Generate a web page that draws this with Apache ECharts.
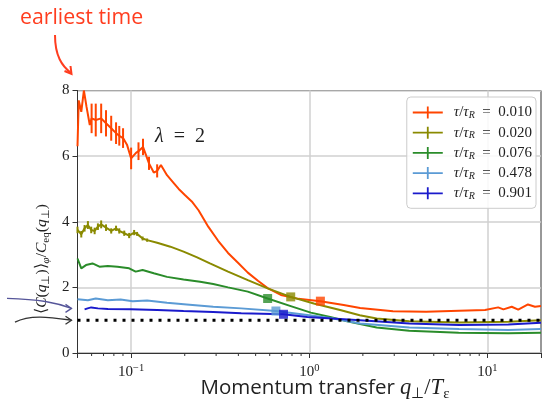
<!DOCTYPE html>
<html><head><meta charset="utf-8">
<script src="https://cdn.jsdelivr.net/npm/echarts@6/dist/echarts.min.js"></script>
<style>html,body{margin:0;padding:0;background:#fff}#c{width:544px;height:402px}</style>
</head><body><div id="c"></div>
<script>
// ---------- data ----------
const seriesNames = ['0.010', '0.020', '0.076', '0.478', '0.901'];

const qOrange = [0.0500,0.0508,0.0525,0.0543,0.0562,0.0586,0.0600,0.0633,0.0679,0.0723,0.0773,0.0823,0.0858,0.0901,0.0948,0.1000,0.1065,0.1100,0.1166,0.1260,0.1340,0.1400,0.1470,0.1590,0.1740,0.1850,0.2010,0.2190,0.2390,0.2710,0.3080,0.3500,0.3980,0.4520,0.5150,0.5840,0.6930,0.8700,1.155,1.560,1.930,2.950,4.530,6.930,9.700,11.50,12.30,13.70,14.90,16.90,18.50,20.00];
const yOrange = [6.30,7.70,7.35,8.00,7.50,6.95,7.15,7.10,7.15,7.00,6.85,6.70,6.62,6.55,6.35,5.93,6.10,6.15,6.28,5.78,5.50,5.55,5.73,5.42,5.17,5.00,4.81,4.62,4.35,3.85,3.42,3.05,2.75,2.45,2.20,1.98,1.77,1.65,1.58,1.46,1.37,1.27,1.26,1.29,1.31,1.39,1.33,1.41,1.32,1.48,1.41,1.43];
const eOrange = [0,0,0,0,0,0,0.45,0.5,0.45,0.4,0.38,0.33,0.3,0.3,0,0.33,0,0.27,0.25,0.2,0,0.2];

const qOlive = [0.0500,0.0525,0.0548,0.0572,0.0597,0.0624,0.0651,0.0679,0.0723,0.0773,0.0823,0.0858,0.0915,0.0975,0.104,0.108,0.116,0.123,0.140,0.166,0.197,0.233,0.277,0.350,0.452,0.584,0.787,1.06,1.49,1.92,2.39,3.64,6.90,13.1,20.0];
const yOlive = [3.75,3.62,3.80,3.90,3.75,3.72,3.85,3.92,3.82,3.72,3.80,3.72,3.65,3.58,3.67,3.63,3.49,3.44,3.36,3.24,3.09,2.92,2.73,2.48,2.22,1.97,1.71,1.51,1.31,1.15,1.05,0.97,0.93,0.95,1.00];
const eOlive = [0.1,0.1,0.1,0.12,0.1,0.1,0.1,0.12,0.1,0.08,0.08,0.08,0.08,0.08,0.08,0.06,0.06,0.05];

const qGreen = [0.0500,0.0525,0.0558,0.0607,0.0664,0.0740,0.0838,0.0975,0.106,0.116,0.134,0.159,0.197,0.244,0.289,0.350,0.452,0.584,0.787,1.02,1.31,1.63,2.39,3.64,6.90,13.1,20.0];
const yGreen = [2.88,2.58,2.68,2.73,2.63,2.65,2.63,2.58,2.48,2.53,2.43,2.32,2.24,2.17,2.10,2.00,1.87,1.66,1.43,1.23,1.10,0.97,0.78,0.68,0.62,0.60,0.62];

const qLight = [0.0500,0.0572,0.0633,0.0740,0.0873,0.102,0.123,0.159,0.205,0.289,0.415,0.650,0.975,1.34,1.93,3.65,6.93,13.1,20.0];
const yLight = [1.64,1.61,1.66,1.61,1.63,1.58,1.60,1.53,1.48,1.41,1.36,1.28,1.16,1.06,0.90,0.78,0.73,0.70,0.73];

const qBlue = [0.0548,0.0570,0.0597,0.0651,0.0740,0.0995,0.140,0.197,0.289,0.415,0.717,0.975,1.34,1.93,3.65,6.93,13.1,20.0];
const yBlue = [1.33,1.36,1.39,1.36,1.34,1.33,1.31,1.28,1.25,1.21,1.18,1.10,1.05,1.00,0.90,0.85,0.87,0.92];

const squareQ = [1.155, 0.787, 0.584, 0.650, 0.717];
const squareY = [1.58, 1.71, 1.66, 1.28, 1.18];

const refQ = [0.05, 20];
const refY = [1, 1];

const xMinorTicks = [0.06,0.07,0.08,0.09,0.2,0.3,0.4,0.5,0.6,0.7,0.8,0.9,2,3,4,5,6,7,8,9];
const xRange = [0.05, 20];
const yRange = [0, 8];
const yStep = 2;
const arrowLevels = [1.36, 1.0];

// ---------- styles ----------
const colors = ['#ff4500', '#8a8a00', '#2a8c2a', '#5b9bd5', '#1a1acc'];
const serif = 'Liberation Serif';
const sans = 'Open Sans';
const ink = '#222';

const allQ = [qOrange, qOlive, qGreen, qLight, qBlue];
const allY = [yOrange, yOlive, yGreen, yLight, yBlue];
const allE = [eOrange, eOlive, [], [], []];

const chart = echarts.init(document.getElementById('c'), null, {renderer: 'canvas'});

const series = [];
seriesNames.forEach((nm, k) => {
  series.push({
    name: nm, type: 'line', symbol: 'none', z: 2,
    data: allQ[k].map((v, i) => [v, allY[k][i]]),
    lineStyle: {color: colors[k], width: 2}, itemStyle: {color: colors[k]},
    clip: true
  });
  const eb = [];
  allE[k].forEach((e, i) => { if (e > 0) eb.push([allQ[k][i], allY[k][i] - e, allY[k][i] + e]); });
  if (eb.length) {
    series.push({
      type: 'custom', z: 2, data: eb, encode: {x: 0, y: [1, 2]},
      renderItem: (params, api) => {
        const p1 = api.coord([api.value(0), api.value(1)]);
        const p2 = api.coord([api.value(0), api.value(2)]);
        return {type: 'line', shape: {x1: p1[0], y1: p1[1], x2: p2[0], y2: p2[1]},
          style: {stroke: colors[k], lineWidth: 2}};
      }
    });
  }
});
squareQ.forEach((q, k) => {
  series.push({
    type: 'scatter', symbol: 'rect', symbolSize: 9, z: 3,
    data: [[q, squareY[k]]], itemStyle: {color: colors[k]}
  });
});
series.push({
  type: 'line', symbol: 'none', z: 4,
  data: refQ.map((v, i) => [v, refY[i]]),
  lineStyle: {color: '#000', width: 3, type: [3, 6]}
});
series.push({
  type: 'custom', z: 5, clip: false,
  data: xMinorTicks.map(v => [v, yRange[0]]), encode: {x: 0, y: 1},
  renderItem: (params, api) => {
    const p = api.coord([api.value(0), api.value(1)]);
    return {type: 'line', shape: {x1: p[0], y1: p[1], x2: p[0], y2: p[1] + 3},
      style: {stroke: '#333', lineWidth: 1}};
  }
});

function mathRich(size, sub) {
  return {
    n: {fontFamily: serif, fontSize: size, fill: ink, lineHeight: size + 4},
    i: {fontFamily: serif, fontSize: size, fontStyle: 'italic', fill: ink, lineHeight: size + 4},
    s: {fontFamily: serif, fontSize: sub, fill: ink, verticalAlign: 'bottom', lineHeight: sub + 2},
    si: {fontFamily: serif, fontSize: sub, fontStyle: 'italic', fill: ink, verticalAlign: 'bottom', lineHeight: sub + 2}
  };
}

const option = {
  animation: false,
  backgroundColor: '#fff',
  grid: {left: 77.5, right: -2, top: 90.5, bottom: 49, show: true, borderColor: '#333', borderWidth: 1, backgroundColor: 'transparent'},
  xAxis: {
    type: 'log', logBase: 10, min: xRange[0], max: xRange[1],
    axisLine: {lineStyle: {color: '#333', width: 1}},
    axisTick: {show: true, length: 5, lineStyle: {color: '#333'}},
    splitLine: {show: true, showMinLine: false, showMaxLine: false, lineStyle: {color: '#d0d0d0', width: 1.5}},
    axisLabel: {
      margin: 10,
      formatter: v => {
        const l = Math.log10(v);
        if (Math.abs(l - Math.round(l)) > 1e-6) return '';
        const e = Math.round(l);
        return '{b|10}{p|' + (e < 0 ? '\u2212' + (-e) : e) + '}';
      },
      rich: {
        b: {fontFamily: serif, fontSize: 15, color: ink, lineHeight: 18},
        p: {fontFamily: serif, fontSize: 10.5, color: ink, verticalAlign: 'top', lineHeight: 11}
      }
    }
  },
  yAxis: {
    type: 'value', min: yRange[0], max: yRange[1], interval: yStep,
    axisLine: {show: true, lineStyle: {color: '#333', width: 1}},
    axisTick: {show: true, length: 5, lineStyle: {color: '#333'}},
    splitLine: {show: true, lineStyle: {color: '#d0d0d0', width: 1.5}},
    axisLabel: {fontFamily: serif, fontSize: 15, color: ink, margin: 8}
  },
  legend: {
    orient: 'vertical', right: 8, top: 97, align: 'left',
    itemWidth: 30, itemHeight: 12, itemGap: 4.7,
    padding: [8, 4, 7, 6],
    backgroundColor: 'rgba(255,255,255,0.85)', borderColor: '#ccc', borderWidth: 1, borderRadius: 4,
    data: seriesNames.map(n => ({name: n, icon: 'path://M0,5.1L30,5.1L30,6.9L0,6.9Z M14.1,0L15.9,0L15.9,12L14.1,12Z'})),
    formatter: n => '{i|\u03c4}{n|/}{i|\u03c4}{s|R}{n|\u2002=\u2002' + n + '}',
    textStyle: {
      padding: [0, 0, 0, 6],
      rich: {
        n: {fontFamily: serif, fontSize: 15, color: ink, lineHeight: 16},
        i: {fontFamily: serif, fontSize: 15, fontStyle: 'italic', color: ink, lineHeight: 16},
        s: {fontFamily: serif, fontSize: 10, fontStyle: 'italic', color: ink, verticalAlign: 'bottom', lineHeight: 10}
      }
    }
  },
  series: series,
  graphic: [
    {type: 'text', x: 20, y: 18, style: {text: 'earliest time', fontFamily: sans, fontSize: 21.3, fill: '#ff3d1f', verticalAlign: 'middle'}},
    {type: 'bezierCurve', shape: {x1: 55, y1: 35, cpx1: 55, cpy1: 56, cpx2: 62, cpy2: 66, x2: 71, y2: 73}, style: {stroke: '#ff3d1f', lineWidth: 2, fill: null}},
    {type: 'polyline', shape: {points: [[64.5, 71], [71.5, 74], [70.5, 66]]}, style: {stroke: '#ff3d1f', lineWidth: 2, fill: null}},
    {type: 'text', x: 155, y: 137, style: {text: '{i|\u03bb}{n|\u2002=\u20022}', verticalAlign: 'middle', rich: mathRich(20, 13)}},
    {type: 'text', x: 42, y: 259, rotation: Math.PI / 2,
      style: {text: '{n|\u27e8}{i|C}{n|(}{i|q}{s|\u22a5}{n|)\u27e9}{si|\u03c6}{n|/}{i|C}{s|eq}{n|(}{i|q}{s|\u22a5}{n|)}',
        align: 'center', verticalAlign: 'middle', rich: mathRich(15.5, 11)}},
    {type: 'text', x: 325, y: 388,
      style: {text: '{t|Momentum transfer }{i|q}{s|\u22a5}{n|/}{i|T}{s|\u03b5}', align: 'center', verticalAlign: 'middle',
        rich: Object.assign({t: {fontFamily: sans, fontSize: 20.5, fill: ink, lineHeight: 24}}, mathRich(22.5, 15))}}
  ]
};
chart.setOption(option);

// arrows on the left pointing at levels, positions from the axis scale
const pA = chart.convertToPixel({xAxisIndex: 0, yAxisIndex: 0}, [xRange[0], arrowLevels[0]]);
const pB = chart.convertToPixel({xAxisIndex: 0, yAxisIndex: 0}, [xRange[0], arrowLevels[1]]);
const tipX = pA[0] - 6, y0 = pA[1], y1 = pB[1];
const g = option.graphic.slice();
g.push({type: 'bezierCurve', shape: {x1: 7, y1: y0 - 10, cpx1: 40, cpy1: y0 - 9, cpx2: 55, cpy2: y0 - 6, x2: tipX, y2: y0}, style: {stroke: '#555599', lineWidth: 1.3, fill: null}});
g.push({type: 'polyline', shape: {points: [[tipX - 6, y0 - 4], [tipX, y0], [tipX - 6, y0 + 4]]}, style: {stroke: '#555599', lineWidth: 1.3, fill: null}});
g.push({type: 'bezierCurve', shape: {x1: 15, y1: y1 + 2, cpx1: 30, cpy1: y1 - 6, cpx2: 50, cpy2: y1 - 3, x2: tipX, y2: y1}, style: {stroke: '#333', lineWidth: 1.3, fill: null}});
g.push({type: 'polyline', shape: {points: [[tipX - 6, y1 - 4], [tipX, y1], [tipX - 6, y1 + 4]]}, style: {stroke: '#333', lineWidth: 1.3, fill: null}});
chart.setOption({graphic: g});
</script>
</body></html>
